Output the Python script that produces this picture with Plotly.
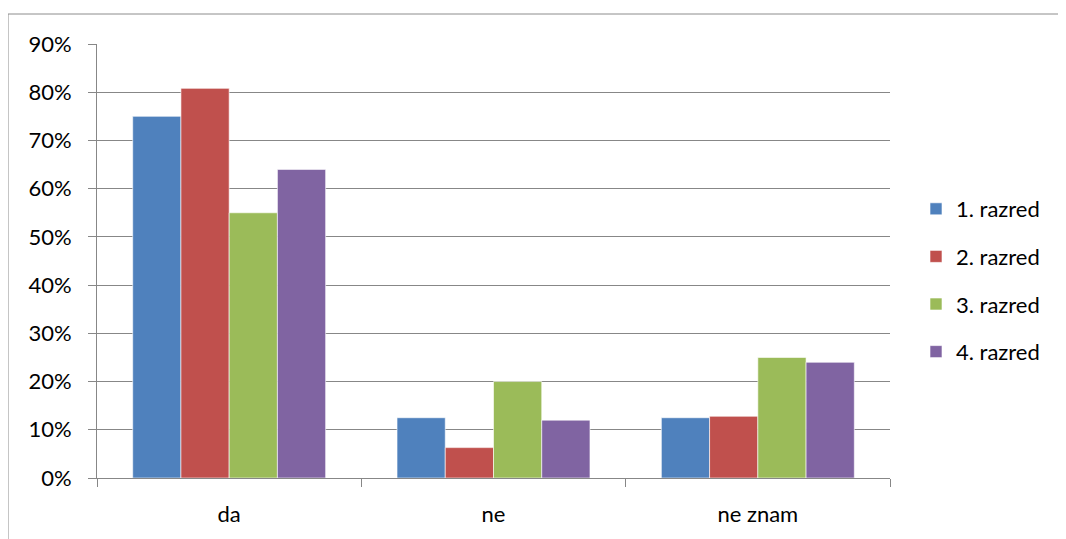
import plotly.graph_objects as go

categories = ["da", "ne", "ne znam"]
series_names = ["1. razred", "2. razred", "3. razred", "4. razred"]
razred1 = [0.75, 0.125, 0.125]
razred2 = [0.808, 0.063, 0.128]
razred3 = [0.55, 0.20, 0.25]
razred4 = [0.64, 0.12, 0.24]
colors = ["#4F81BD", "#C0504D", "#9BBB59", "#8064A2"]
y_ticks = [0, 0.1, 0.2, 0.3, 0.4, 0.5, 0.6, 0.7, 0.8, 0.9]
y_ticktext = ["0%", "10%", "20%", "30%", "40%", "50%", "60%", "70%", "80%", "90%"]

# page body has an 8px margin; work in figure coordinates
OFF = 8
W, H = 1066, 539
L, R, T, B = 97 - OFF, 890 - OFF, 44 - OFF, 478 - OFF

fig = go.Figure()
for i, (name, vals, c) in enumerate(zip(series_names, [razred1, razred2, razred3, razred4], colors)):
    fig.add_trace(go.Bar(
        x=categories, y=vals, name=name, legendgroup=f"g{i}",
        marker=dict(color=c, line=dict(color="rgba(255,255,255,0.6)", width=1)),
    ))

FONT = "Lato, Calibri, sans-serif"
grid = "#878787"

def px_x(p):
    return (p - OFF - L) / (R - L)

def px_y(p):
    return (B - (p - OFF)) / (B - T)

fig.update_layout(
    width=W, height=H,
    margin=dict(l=L, r=W - R, t=T, b=H - B),
    paper_bgcolor="white", plot_bgcolor="white",
    barmode="group", bargap=0.27, bargroupgap=0,
    font=dict(family=FONT, size=22, color="black"),
    showlegend=True,
    legend=dict(
        x=px_x(916), y=px_y(188), xanchor="left", yanchor="top",
        font=dict(family=FONT, size=22, color="black"),
        traceorder="grouped", tracegroupgap=16, itemwidth=30,
        bgcolor="rgba(0,0,0,0)",
    ),
    xaxis=dict(
        type="category", showline=True, linecolor=grid, linewidth=1,
        ticks="outside", tickson="boundaries", ticklen=8, tickcolor=grid,
        showgrid=False, ticklabelstandoff=17,
        tickfont=dict(family=FONT, size=22),
    ),
    yaxis=dict(
        range=[0, 0.9], tickvals=y_ticks, ticktext=y_ticktext,
        showline=True, linecolor=grid, linewidth=1,
        ticks="outside", ticklen=8, tickcolor=grid,
        showgrid=True, gridcolor=grid, gridwidth=1,
        zeroline=False, ticklabelstandoff=12,
        tickfont=dict(family=FONT, size=22),
    ),
    shapes=[dict(
        type="rect", xref="paper", yref="paper",
        x0=px_x(8), x1=px_x(1062), y0=px_y(560), y1=px_y(14),
        line=dict(color="#8C8C8C", width=1), fillcolor="rgba(0,0,0,0)", layer="below",
    )],
)

fig.write_html("out.html")
